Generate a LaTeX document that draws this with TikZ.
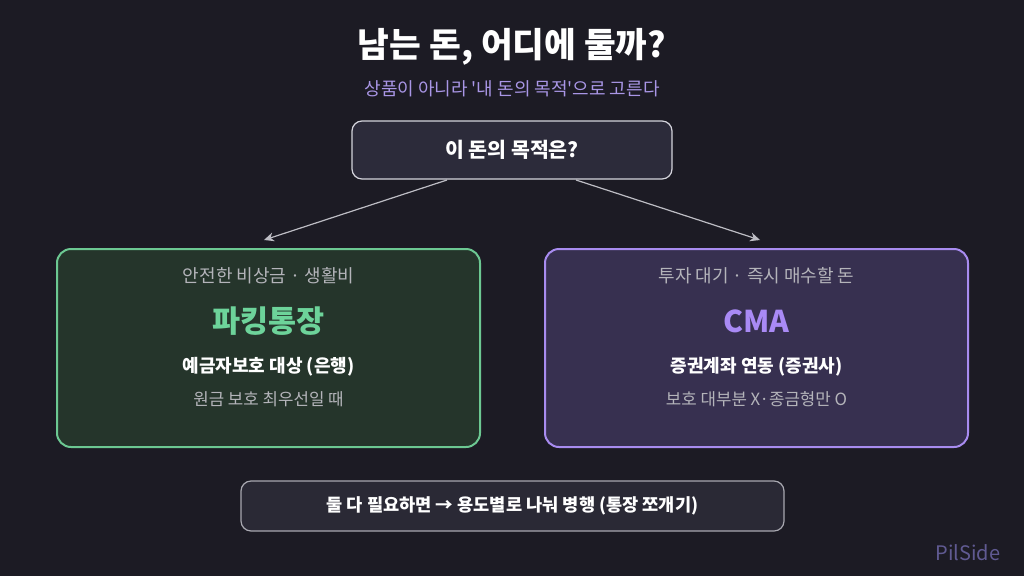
\documentclass[tikz,border=0pt]{standalone}
\usepackage{fontspec}
\setmainfont{Noto Sans CJK KR}
\usetikzlibrary{arrows.meta}
\definecolor{bg}{HTML}{1C1B24}
\definecolor{qfill}{HTML}{2C2B3A}
\definecolor{qline}{HTML}{D4D4DC}
\definecolor{gfill}{HTML}{25352B}
\definecolor{gline}{HTML}{6CC892}
\definecolor{gtext}{HTML}{6DD39A}
\definecolor{pfill}{HTML}{373050}
\definecolor{pline}{HTML}{A88CF0}
\definecolor{ptext}{HTML}{A98AF5}
\definecolor{subc}{HTML}{A996E6}
\definecolor{graytxt}{HTML}{B4B4BA}
\definecolor{arrowc}{HTML}{BDBDC4}
\definecolor{bfill}{HTML}{2A2935}
\definecolor{bline}{HTML}{A8A8B0}
\definecolor{brand}{HTML}{605A92}
\tikzset{
  fs/.style={font=\fontsize{#1}{#1}\selectfont},
  qbox/.style={draw=qline, fill=qfill, line width=1.2pt, rounded corners=10pt},
  gbox/.style={draw=gline, fill=gfill, line width=2pt, rounded corners=14pt},
  pbox/.style={draw=pline, fill=pfill, line width=2pt, rounded corners=14pt},
  bbox/.style={draw=bline, fill=bfill, line width=1.2pt, rounded corners=10pt},
  conn/.style={draw=arrowc, line width=1.2pt, -{Stealth[length=10pt,width=9pt]}},
  lbl/.style={inner sep=0pt, anchor=center}
}
\begin{document}
\begin{tikzpicture}[x=1pt,y=-1pt]
\fill[bg] (0,0) rectangle (1024,576);
\useasboundingbox (0,0) rectangle (1024,576);

\node[lbl, fs=34.5, text=white] (title) at (512,47) {\bfseries 남는 돈, 어디에 둘까?};
\node[lbl, fs=18, text=subc] (sub) at (512,89) {\addfontfeature{Ligatures=TeXOff}상품이 아니라 '내 돈의 목적'으로 고른다};

\path[qbox] (352,121) rectangle (672,179);
\node[lbl, fs=20.5, text=white] (q) at (512,150) {\bfseries 이 돈의 목적은?};
\coordinate (qL) at (447,180);
\coordinate (qR) at (576,180);

\path[gbox] (57,249) rectangle (480,447);
\coordinate (gTop) at (264,240);
\node[lbl, fs=18, text=graytxt] (g1) at (268.5,276) {안전한 비상금 · 생활비};
\node[lbl, fs=30.5, text=gtext] (g2) at (268.5,321) {\bfseries 파킹통장};
\node[lbl, fs=18, text=white] (g3) at (268.5,367) {\bfseries 예금자보호 대상 (은행)};
\node[lbl, fs=16.8, text=graytxt] (g4) at (268.5,399) {원금 보호 최우선일 때};

\path[pbox] (545,249) rectangle (968,447);
\coordinate (pTop) at (760,240);
\node[lbl, fs=18, text=graytxt] (p1) at (756.5,276) {투자 대기 · 즉시 매수할 돈};
\node[lbl, fs=30, text=ptext] (p2) at (756.5,321) {\bfseries CMA};
\node[lbl, fs=18, text=white] (p3) at (756.5,367) {\bfseries 증권계좌 연동 (증권사)};
\node[lbl, fs=16.8, text=graytxt] (p4) at (756.5,399) {보호 대부분 X·종금형만 O};

\draw[conn] (qL) -- (gTop);
\draw[conn] (qR) -- (pTop);

\path[bbox] (241,481) rectangle (784,531);
\node[lbl, fs=17.6, text=white] (b) at (512.5,506) {\bfseries 둘 다 필요하면 → 용도별로 나눠 병행 (통장 쪼개기)};

\node[lbl, fs=20, text=brand] (brand) at (968,553) {PilSide};
\end{tikzpicture}
\end{document}
